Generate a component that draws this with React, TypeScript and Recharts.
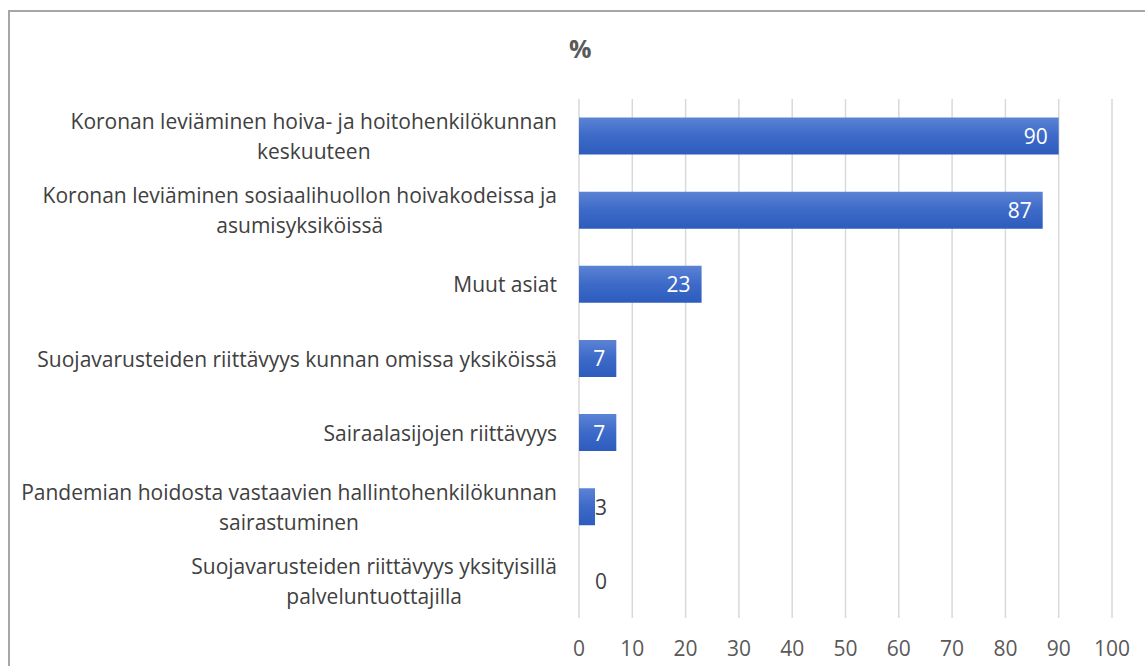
import React from "react";
import { BarChart, Bar, XAxis, YAxis, CartesianGrid, Rectangle } from "recharts";

const categories: string[] = [
  "Koronan leviäminen hoiva- ja hoitohenkilökunnan\nkeskuuteen",
  "Koronan leviäminen sosiaalihuollon hoivakodeissa ja\nasumisyksiköissä",
  "Muut asiat",
  "Suojavarusteiden riittävyys kunnan omissa yksiköissä",
  "Sairaalasijojen riittävyys",
  "Pandemian hoidosta vastaavien hallintohenkilökunnan\nsairastuminen",
  "Suojavarusteiden riittävyys yksityisillä\npalveluntuottajilla",
];
const values: number[] = [90, 87, 23, 7, 7, 3, 0];
const xTicks: number[] = [0, 10, 20, 30, 40, 50, 60, 70, 80, 90, 100];
const title = "%";

const data = categories.map((name, i) => ({ name, value: values[i] }));

const FONT = "'Open Sans', 'DejaVu Sans', sans-serif";
const FS = 21;
const LINE_H = 30;

let ctx: CanvasRenderingContext2D | null = null;
function measure(t: string): number {
  if (typeof document === "undefined") return t.length * FS * 0.5;
  if (!ctx) {
    const c = document.createElement("canvas");
    ctx = c.getContext("2d");
  }
  if (!ctx) return t.length * FS * 0.5;
  ctx.font = `${FS}px 'Open Sans'`;
  return ctx.measureText(t).width;
}

const CategoryTick = (props: any) => {
  const { x, y, payload } = props;
  const lines: string[] = String(payload.value).split("\n");
  const w = Math.max(...lines.map(measure));
  const cx = x - w / 2;
  const y0 = y - ((lines.length - 1) * LINE_H) / 2;
  return (
    <g>
      {lines.map((l, i) => (
        <text
          key={i}
          x={cx}
          y={y0 + i * LINE_H}
          textAnchor="middle"
          dominantBaseline="central"
          fill="#404040"
          fontFamily={FONT}
          fontSize={FS}
        >
          {l}
        </text>
      ))}
    </g>
  );
};

const ValueTick = (props: any) => {
  const { x, y, payload } = props;
  return (
    <text
      x={x}
      y={y}
      textAnchor="middle"
      dominantBaseline="central"
      fill="#595959"
      fontFamily={FONT}
      fontSize={FS}
    >
      {payload.value}
    </text>
  );
};

const renderLabel = (props: any) => {
  const { x, y, width, height, value } = props;
  const inside = Number(value) > 0 && width >= 30;
  const rx = inside ? x + width - 11 : x + 28;
  return (
    <text
      x={rx}
      y={y + height / 2}
      textAnchor="end"
      dominantBaseline="central"
      fill={inside ? "#ffffff" : "#404040"}
      fontFamily={FONT}
      fontSize={FS}
    >
      {value}
    </text>
  );
};

const BarShape = (props: any) => {
  const { payload, x, y, width, height, fill } = props;
  if (!payload || Number(payload.value) <= 0) return <g />;
  return <Rectangle x={x} y={y} width={width} height={height} fill={fill} />;
};

export default function App() {
  return (
    <div style={{ position: "absolute", left: 0, top: 0, width: 1145, height: 666, background: "#fff", overflow: "hidden" }}>
      <svg width={0} height={0} style={{ position: "absolute" }}>
        <defs>
          <linearGradient id="barGrad" x1="0" y1="0" x2="0" y2="1">
            <stop offset="0%" stopColor="#5b83d5" />
            <stop offset="50%" stopColor="#3d6ac8" />
            <stop offset="100%" stopColor="#2d5cbd" />
          </linearGradient>
        </defs>
      </svg>
      <div
        style={{
          position: "absolute",
          left: 8,
          top: 10,
          width: 1160,
          height: 700,
          border: "2px solid #a6a6a6",
          boxSizing: "border-box",
        }}
      />
      <div
        style={{
          position: "absolute",
          left: 569,
          top: 31,
          fontFamily: FONT,
          fontSize: 25,
          fontWeight: 700,
          color: "#595959",
          lineHeight: "34px",
        }}
      >
        {title}
      </div>
      <div style={{ position: "absolute", left: 0, top: 0 }}>
        <BarChart
          width={1145}
          height={666}
          data={data}
          layout="vertical"
          margin={{ top: 99, right: 33, bottom: 18, left: 0 }}
          barCategoryGap="25%"
        >
          <CartesianGrid horizontal={false} vertical={true} stroke="#d9d9d9" strokeWidth={1.5} />
          <XAxis
            type="number"
            domain={[0, 100]}
            ticks={xTicks}
            axisLine={false}
            tickLine={false}
            tickSize={0}
            tickMargin={30}
            height={30}
            tick={<ValueTick />}
            interval={0}
          />
          <YAxis
            type="category"
            dataKey="name"
            width={579}
            axisLine={false}
            tickLine={false}
            tickSize={0}
            tickMargin={22}
            tick={<CategoryTick />}
            interval={0}
          />
          <Bar
            dataKey="value"
            fill="url(#barGrad)"
            isAnimationActive={false}
            minPointSize={1}
            shape={<BarShape />}
            label={renderLabel}
          />
        </BarChart>
      </div>
    </div>
  );
}
